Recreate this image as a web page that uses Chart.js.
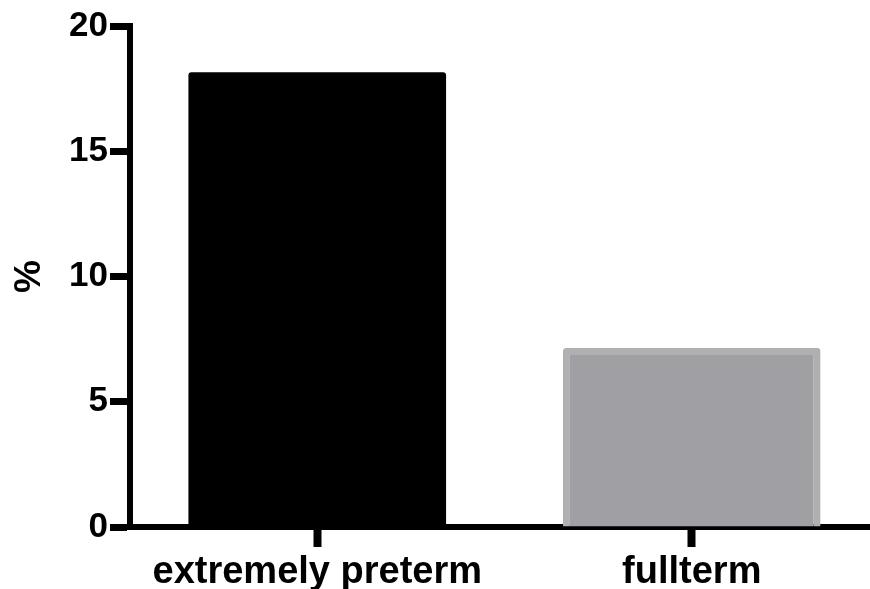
<!DOCTYPE html>
<html>
<head>
<meta charset="utf-8">
<script src="https://cdn.jsdelivr.net/npm/chart.js@4.4.0/dist/chart.umd.min.js"></script>
<style>
  html, body { margin: 0; padding: 0; background: #fff; overflow: hidden; }
  #wrap { width: 870px; height: 589px; overflow: hidden; }
</style>
</head>
<body>
<div id="wrap"><canvas id="grafico" width="879" height="589"></canvas></div>
<script>
// dados
const categorias = ['extremely preterm', 'fullterm'];
const valores = [18.15, 7.15];
const coresBarra = ['#000000', '#a09fa4'];
const coresBorda = ['#000000', '#b0b0b0'];
const bordas = [0, 7];
const ticksY = [0, 5, 10, 15, 20];

const fonte = "'Liberation Sans', Arial, sans-serif";

const ctx = document.getElementById('grafico').getContext('2d');

new Chart(ctx, {
  type: 'bar',
  data: {
    labels: categorias,
    datasets: [{
      data: valores,
      backgroundColor: coresBarra,
      borderColor: coresBorda,
      borderWidth: bordas,
      borderRadius: 3,
      borderSkipped: 'start',
      categoryPercentage: 1,
      barPercentage: 0.688
    }]
  },
  options: {
    responsive: false,
    animation: false,
    layout: { padding: { top: 26, right: 0, left: 0, bottom: 0 } },
    plugins: {
      legend: { display: false },
      tooltip: { enabled: false }
    },
    scales: {
      x: {
        offset: true,
        grid: {
          offset: false,
          drawOnChartArea: false,
          tickLength: 20,
          tickWidth: 8,
          tickColor: '#000'
        },
        border: { color: '#000', width: 6 },
        ticks: {
          color: '#000',
          padding: 3,
          maxRotation: 0,
          font: { family: fonte, size: 38, weight: 'bold' }
        },
        afterFit: function(scale) { scale.height = 62; }
      },
      y: {
        min: ticksY[0],
        max: ticksY[ticksY.length - 1],
        afterBuildTicks: function(scale) {
          scale.ticks = ticksY.map(v => ({ value: v }));
        },
        grid: {
          drawOnChartArea: false,
          tickLength: 20,
          tickWidth: 7,
          tickColor: '#000'
        },
        border: { color: '#000', width: 6 },
        ticks: {
          color: '#000',
          padding: 2,
          font: { family: fonte, size: 35, weight: 'bold' }
        },
        title: {
          display: true,
          text: '%',
          color: '#000',
          padding: { top: 8, bottom: 0 },
          font: { family: fonte, size: 37, weight: 'bold' }
        },
        afterFit: function(scale) { scale.width = 130; }
      }
    }
  }
});
</script>
</body>
</html>
